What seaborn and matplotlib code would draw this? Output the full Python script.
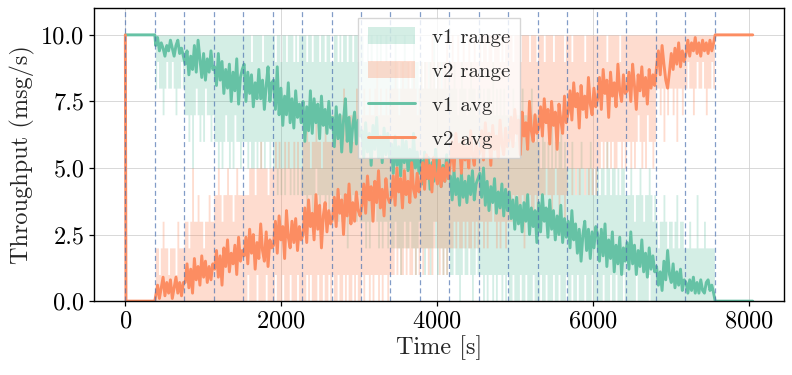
import numpy as np
import pandas as pd
import seaborn as sns
import matplotlib
matplotlib.use("Agg")
import matplotlib.pyplot as plt

# ---------------- data ----------------
# phase boundaries (s): traffic weight shifts from v1 to v2 in 20 steps
phase_starts = [0, 378, 756, 1134, 1512, 1890, 2268, 2646, 3024, 3402, 3780,
                4158, 4536, 4914, 5292, 5670, 6048, 6426, 6804, 7182, 7560]
t_end = 8050
samples_per_phase = 16

# head (before the shift) and tail (after the shift)
head_time = [0, 8, 378]
head_v1 = [10, 10, 10]
head_v2 = [10, 0, 0]
tail_time = [7568, 8050]
tail_v1 = [0, 0]
tail_v2 = [10, 10]

# average throughput per phase (msg/s), 16 readings per phase
v1_avg_phases = [
    [9.6, 9.9, 9.4, 9.7, 9.5, 9.2, 9.6, 9.4, 9.8, 9.5, 9.2, 9.6, 9.8, 9.3, 9.5, 9.2],
    [8.9, 9.4, 8.5, 9.2, 8.7, 9.6, 8.6, 9.8, 9.1, 8.4, 9.3, 8.3, 9.1, 8.6, 9.4, 8.7],
    [8.8, 8.1, 9.3, 8.3, 9.0, 7.8, 8.7, 8.0, 8.9, 7.5, 8.6, 7.9, 9.1, 7.4, 8.4, 8.7],
    [8.9, 7.5, 8.6, 7.8, 8.5, 7.3, 8.2, 7.6, 8.7, 7.6, 8.3, 7.2, 8.1, 8.8, 7.5, 8.2],
    [8.3, 7.2, 8.8, 7.0, 8.0, 6.6, 7.7, 7.0, 8.2, 6.7, 7.6, 6.5, 7.9, 6.9, 7.4, 6.7],
    [7.5, 6.0, 7.3, 6.4, 7.9, 6.3, 7.6, 6.7, 7.4, 6.1, 7.7, 6.6, 7.2, 6.3, 7.5, 6.5],
    [6.9, 5.8, 7.3, 6.1, 7.0, 5.6, 6.8, 7.6, 6.0, 6.9, 5.6, 6.6, 7.1, 5.9, 6.8, 6.2],
    [6.4, 5.4, 6.7, 5.6, 6.3, 5.1, 6.6, 5.7, 6.9, 5.4, 6.2, 5.2, 6.5, 5.5, 6.3, 5.4],
    [5.9, 4.8, 6.2, 5.1, 5.8, 4.7, 6.1, 5.2, 6.0, 4.9, 5.7, 4.6, 6.3, 5.0, 5.6, 4.8],
    [5.3, 4.4, 5.6, 4.6, 5.4, 4.2, 5.2, 4.5, 5.7, 4.7, 5.3, 4.3, 5.1, 4.5, 5.5, 4.6],
    [4.7, 3.8, 4.9, 4.0, 4.6, 3.6, 4.8, 3.9, 4.5, 3.7, 4.7, 4.0, 4.9, 3.8, 4.4, 4.6],
    [4.8, 3.9, 5.0, 3.6, 4.5, 3.4, 4.3, 3.7, 4.6, 3.3, 4.1, 3.5, 4.4, 3.2, 4.2, 3.4],
    [4.1, 3.1, 3.8, 2.7, 3.9, 2.9, 3.6, 2.6, 3.7, 3.0, 4.0, 2.5, 3.5, 2.8, 3.4, 2.2],
    [3.7, 2.6, 4.0, 3.0, 3.5, 2.4, 3.8, 2.7, 3.4, 2.3, 3.2, 2.5, 3.6, 2.2, 3.1, 2.4],
    [3.0, 2.0, 3.4, 2.3, 2.9, 1.8, 2.7, 1.5, 2.5, 3.0, 1.9, 2.7, 1.6, 2.6, 2.0, 2.8],
    [2.5, 1.5, 2.7, 1.7, 2.9, 1.3, 2.3, 1.6, 2.6, 1.1, 2.1, 1.4, 2.4, 1.0, 2.0, 1.5],
    [2.2, 1.2, 2.6, 1.4, 2.1, 1.0, 1.9, 1.3, 2.3, 1.1, 1.8, 0.9, 2.0, 1.2, 1.7, 1.1],
    [1.3, 0.6, 1.1, 0.4, 1.5, 0.8, 1.9, 1.0, 0.7, 1.4, 0.5, 1.1, 0.6, 1.2, 0.4, 0.8],
    [0.7, 0.3, 0.8, 0.4, 0.9, 0.3, 0.7, 0.3, 0.8, 0.4, 0.3, 0.7, 0.8, 0.4, 0.6, 0.3],
]
v2_avg_phases = [
    [0.2, 0.6, 0.1, 0.5, 0.9, 0.2, 0.7, 0.3, 0.8, 0.1, 0.5, 0.9, 0.3, 0.7, 0.2, 0.7],
    [0.7, 1.4, 0.5, 1.2, 0.3, 1.6, 0.8, 1.3, 0.6, 1.7, 0.9, 1.5, 0.7, 1.3, 0.8, 1.4],
    [1.2, 1.9, 0.9, 1.7, 0.6, 2.0, 1.3, 2.3, 1.1, 1.8, 1.4, 2.1, 1.0, 2.4, 1.5, 1.9],
    [1.7, 2.4, 1.4, 2.7, 1.8, 2.5, 1.2, 2.2, 1.6, 2.9, 1.9, 1.5, 2.6, 1.3, 2.3, 2.0],
    [2.1, 3.0, 1.8, 3.2, 2.3, 2.8, 1.6, 3.4, 2.4, 2.0, 3.0, 2.2, 3.1, 1.9, 2.8, 2.3],
    [2.5, 3.5, 2.2, 3.8, 2.8, 3.3, 2.3, 4.0, 2.7, 3.6, 2.0, 3.2, 3.7, 2.6, 3.4, 2.9],
    [3.1, 3.9, 2.8, 4.2, 3.3, 3.8, 2.5, 4.0, 3.2, 4.4, 2.9, 3.7, 3.0, 4.1, 3.4, 3.2],
    [3.6, 4.4, 3.3, 4.7, 3.8, 4.3, 3.0, 4.5, 3.7, 4.9, 3.5, 4.2, 3.2, 4.6, 3.9, 3.7],
    [3.9, 4.7, 3.6, 5.0, 4.1, 4.6, 3.5, 4.9, 4.0, 4.5, 3.7, 5.2, 4.2, 3.9, 4.8, 4.1],
    [4.5, 5.2, 4.2, 5.5, 4.6, 5.1, 4.1, 5.4, 4.7, 4.4, 5.3, 4.3, 5.0, 4.5, 5.2, 4.6],
    [5.2, 6.0, 4.9, 6.3, 5.4, 5.9, 4.8, 6.1, 5.3, 5.8, 5.0, 6.4, 5.5, 5.1, 6.0, 5.4],
    [5.6, 6.4, 5.3, 6.7, 5.8, 6.3, 5.1, 6.6, 5.7, 6.2, 5.4, 6.8, 5.9, 5.5, 6.5, 5.8],
    [6.1, 6.9, 5.8, 7.2, 6.3, 6.8, 5.5, 7.1, 6.2, 6.7, 5.7, 7.5, 6.4, 6.0, 7.0, 6.3],
    [6.5, 7.3, 6.2, 7.6, 6.7, 7.2, 5.9, 7.5, 6.6, 7.1, 5.7, 7.4, 6.8, 6.3, 7.7, 6.7],
    [7.1, 7.9, 6.8, 8.2, 7.3, 7.8, 6.5, 8.1, 7.2, 7.7, 6.9, 8.4, 7.4, 7.0, 8.0, 7.3],
    [7.6, 8.4, 7.2, 8.7, 7.8, 8.3, 6.9, 8.6, 7.7, 8.2, 7.3, 8.9, 7.9, 7.5, 8.5, 7.8],
    [7.9, 8.6, 7.5, 8.9, 8.1, 7.2, 8.5, 7.9, 8.8, 7.7, 8.4, 7.4, 8.7, 8.0, 8.5, 8.1],
    [8.8, 9.4, 8.5, 9.6, 8.9, 8.3, 8.0, 8.6, 9.3, 8.7, 9.5, 8.9, 9.7, 8.8, 9.4, 9.0],
    [9.3, 9.8, 9.2, 9.7, 9.4, 9.9, 9.3, 9.7, 9.2, 9.8, 9.4, 9.7, 9.3, 9.8, 9.4, 9.7],
]

# min / max over runs (integer msg/s), 16 readings per phase
v1_min_phases = [
    "8 9 8 8 7 8 9 8 8 9 8 7 8 8 9 8", "7 7 6 7 5 7 8 7 6 7 6 8 7 7 6 7",
    "6 6 5 6 5 6 7 6 5 6 5 7 6 6 5 6", "6 6 5 6 5 5 6 5 6 5 6 5 6 6 5 6",
    "5 5 4 5 4 5 4 5 5 4 5 4 5 4 5 4", "4 4 3 4 4 3 4 5 4 3 4 4 3 4 3 4",
    "3 3 4 3 4 3 3 4 2 3 3 4 3 3 4 3", "3 3 2 3 2 3 3 4 3 2 3 2 3 3 2 3",
    "2 2 3 2 2 1 2 3 2 2 3 2 2 1 2 3", "2 2 1 2 2 1 2 3 2 1 2 2 1 2 1 2",
    "1 1 2 1 1 0 1 2 1 1 2 1 0 1 2 1", "1 1 0 1 0 1 1 0 1 0 1 1 0 1 0 1",
    "0 0 1 0 0 0 1 0 0 1 0 0 0 1 0 0", "0 1 0 0 1 0 0 0 1 0 0 1 0 0 0 1",
    "0 0 1 0 0 1 0 0 0 1 0 0 0 1 0 0", "0 0 0 1 0 0 0 1 0 0 1 0 0 0 1 0",
    "0 0 0 0 0 1 0 0 0 0 0 0 1 0 0 0", "0 0 0 0 0 0 0 0 0 0 0 0 0 0 0 0",
    "0 0 0 0 0 0 0 0 0 0 0 0 0 0 0 0",
]
v1_max_phases = [
    "10 10 10 10 10 10 10 10 10 10 10 10 10 10 10 10",
    "10 10 10 10 10 10 10 10 10 10 10 10 10 10 10 10",
    "10 10 10 10 10 10 10 10 10 10 10 10 10 10 10 10",
    "10 10 10 10 9 10 10 10 10 10 9 10 10 10 10 10",
    "10 9 10 10 9 10 10 9 10 10 10 9 10 9 10 10",
    "10 10 9 10 10 9 10 10 10 9 10 10 9 10 10 9",
    "9 10 10 9 10 9 10 10 9 10 10 9 10 10 9 10",
    "10 9 9 10 9 10 9 9 10 9 10 9 9 10 9 9",
    "9 9 10 9 8 9 9 10 9 9 8 9 10 9 9 8",
    "9 8 9 8 9 9 8 10 8 9 8 9 8 9 8 9",
    "8 8 9 8 7 8 9 8 8 7 8 9 8 8 7 8",
    "8 7 8 7 8 8 7 9 7 8 7 8 7 8 7 7",
    "7 7 8 6 7 7 6 8 7 7 6 7 8 7 6 7",
    "6 5 7 6 5 6 5 7 5 6 5 6 7 5 6 5",
    "5 5 6 5 4 5 5 6 5 4 5 5 6 5 4 5",
    "5 4 5 5 4 6 5 4 5 5 4 5 4 5 5 4",
    "4 4 5 4 3 4 4 5 4 3 4 4 5 4 3 4",
    "3 2 3 3 4 3 2 3 3 2 3 4 2 3 3 2",
    "2 2 3 2 2 2 4 2 2 2 3 2 2 2 2 2",
]
v2_min_phases = [
    "0 0 0 0 0 0 0 0 0 0 0 0 0 0 0 0", "0 0 0 0 0 0 0 0 0 0 0 0 0 0 0 0",
    "0 0 0 0 0 0 0 0 0 0 0 0 0 0 0 0", "0 0 1 0 0 0 0 1 0 0 0 0 1 0 0 0",
    "0 1 0 0 0 1 0 0 0 1 0 0 0 1 0 0", "0 0 1 0 1 0 0 0 1 0 0 1 0 0 1 0",
    "1 0 0 1 0 0 1 0 1 0 0 1 0 1 0 0", "1 0 1 1 0 1 0 1 1 0 1 0 1 1 0 1",
    "1 1 2 1 2 1 1 2 1 2 1 1 2 1 2 1", "2 1 2 2 1 2 1 2 3 2 1 2 1 2 1 2",
    "2 2 3 2 3 2 2 3 2 3 2 2 3 2 3 2", "3 3 2 3 2 3 3 4 3 2 3 2 3 3 2 3",
    "3 3 4 3 4 3 3 4 2 3 3 4 3 3 4 3", "4 4 3 4 5 4 4 3 4 5 4 3 4 4 3 4",
    "5 5 4 5 4 5 4 5 5 4 5 4 5 4 5 4", "5 5 6 5 6 5 6 5 6 5 5 6 6 5 6 5",
    "6 6 5 6 5 6 7 6 5 6 5 7 6 6 5 6", "8 8 7 8 6 8 7 8 8 7 8 6 8 8 7 8",
    "8 9 8 8 7 8 9 8 8 9 8 7 8 8 9 8",
]
v2_max_phases = [
    "2 2 1 2 3 2 2 1 2 2 2 1 3 2 2 2",
    "3 3 2 3 5 3 3 4 3 3 2 3 3 4 3 3",
    "4 4 5 4 3 4 4 5 4 4 3 4 5 4 4 4",
    "4 4 4 5 5 5 4 5 5 6 5 5 5 4 5 5",
    "5 6 5 6 5 5 6 5 6 5 5 6 5 6 5 5",
    "6 6 7 6 5 6 6 7 6 6 5 6 7 6 6 6",
    "7 6 7 7 6 7 8 7 6 7 7 6 7 8 7 6",
    "7 8 7 7 8 7 7 8 9 7 8 7 7 8 7 8",
    "8 8 9 8 7 8 9 8 8 9 8 8 9 8 7 8",
    "9 8 9 9 8 9 10 9 8 9 9 8 9 9 10 9",
    "9 10 9 9 10 9 9 10 9 9 10 9 9 10 9 9",
    "10 9 10 10 9 10 10 9 10 10 10 9 10 9 10 10",
    "10 10 9 10 10 10 9 10 10 10 10 9 10 10 10 9",
    "10 10 10 9 10 10 10 10 9 10 10 10 10 10 9 10",
    "10 10 9 10 10 10 10 10 10 9 10 10 10 10 10 10",
    "10 10 10 10 10 9 10 10 10 10 10 10 9 10 10 10",
    "10 10 10 10 10 10 10 10 10 10 10 10 10 10 10 10",
    "10 10 10 10 10 10 10 10 10 10 10 10 10 10 10 10",
    "10 10 10 10 10 10 10 10 10 10 10 10 10 10 10 10",
]

# ---------------- assemble ----------------
def flat_num(phases):
    return [float(v) for p in phases for v in (p.split() if isinstance(p, str) else p)]

main_time = []
for a, b in zip(phase_starts[:-1], phase_starts[1:]):
    step = (b - a) / samples_per_phase
    main_time += [a + (i + 0.5) * step for i in range(samples_per_phase)]
main_time = main_time[samples_per_phase:]  # first phase is the head

time = head_time + main_time + tail_time
v1_avg = head_v1 + flat_num(v1_avg_phases) + tail_v1
v2_avg = head_v2 + flat_num(v2_avg_phases) + tail_v2
v1_min = head_v1 + flat_num(v1_min_phases) + tail_v1
v1_max = head_v1 + flat_num(v1_max_phases) + tail_v1
v2_min = head_v2 + flat_num(v2_min_phases) + tail_v2
v2_max = head_v2 + flat_num(v2_max_phases) + tail_v2

df = pd.DataFrame({"time": time, "v1": v1_avg, "v2": v2_avg,
                   "v1_min": v1_min, "v1_max": v1_max,
                   "v2_min": v2_min, "v2_max": v2_max})

# ---------------- plot ----------------
sns.set_theme(style="ticks")
plt.rcParams["font.family"] = ["cmr10", "DejaVu Sans"]
plt.rcParams["mathtext.fontset"] = "cm"
plt.rcParams["axes.formatter.use_mathtext"] = True
plt.rcParams["axes.unicode_minus"] = False

c1, c2 = sns.color_palette("Set2")[0], sns.color_palette("Set2")[1]

fig = plt.figure(figsize=(7.92, 3.75), dpi=100)
ax = fig.add_axes([0.1187, 0.197, 0.8713, 0.781])

ax.grid(True, color="#cfcfcf", lw=0.7, alpha=0.8)
ax.set_axisbelow(True)

h1 = ax.fill_between(df["time"], df["v1_min"], df["v1_max"], step="mid",
                     color=c1, alpha=0.28, lw=0, label="v1 range")
h2 = ax.fill_between(df["time"], df["v2_min"], df["v2_max"], step="mid",
                     color=c2, alpha=0.3, lw=0, label="v2 range")
sns.lineplot(data=df, x="time", y="v1", ax=ax, color=c1, lw=2.1,
             estimator=None, sort=False, label="v1 avg", legend=False)
sns.lineplot(data=df, x="time", y="v2", ax=ax, color=c2, lw=2.1,
             estimator=None, sort=False, label="v2 avg", legend=False)

for x in phase_starts:
    ax.axvline(x, color="#4c72b0", alpha=0.7, lw=0.9, ls=(0, (4, 2.5)))

ax.set_xlim(-402, t_end + 402)
ax.set_ylim(0, 11)
ax.set_yticks([0, 2.5, 5, 7.5, 10])
ax.set_xticks([0, 2000, 4000, 6000, 8000])
ax.set_yticklabels(["0.0", "2.5", "5.0", "7.5", "10.0"])
ax.tick_params(labelsize=17.5, length=3.5, width=0.9, colors="black")
ax.set_xlabel("Time [s]", fontsize=17.5, labelpad=2)
ax.set_ylabel("Throughput (msg/s)", fontsize=17.5, labelpad=4)
for s in ax.spines.values():
    s.set_color("black")
    s.set_linewidth(1.0)

lines = ax.get_lines()
handles = [h1, h2, lines[0], lines[1]]
ax.legend(handles, ["v1 range", "v2 range", "v1 avg", "v2 avg"],
          loc="upper center", fontsize=15, handlelength=2.3, handleheight=0.85,
          labelspacing=0.7, borderpad=0.45, borderaxespad=0.45,
          framealpha=0.8, edgecolor="#cccccc", fancybox=False)

fig.savefig("out.png", dpi=100)
